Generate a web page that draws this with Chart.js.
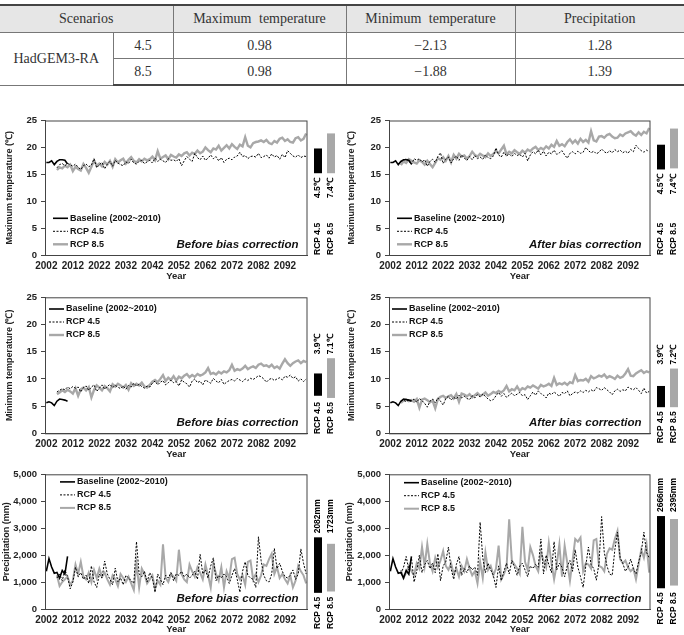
<!DOCTYPE html>
<html>
<head>
<meta charset="utf-8">
<script src="https://cdn.jsdelivr.net/npm/chart.js@4.4.0/dist/chart.umd.min.js"></script>
<style>
  body { margin: 0; background: #fff; width: 684px; height: 635px; position: relative; overflow: hidden; }
  #tbl { position: absolute; left: 0; top: 4px; width: 684px; border-collapse: collapse; table-layout: fixed;
         font-family: "Liberation Serif", "DejaVu Serif", serif; font-size: 14px; color: #333; word-spacing: 4px; }
  #tbl td, #tbl th { text-align: center; font-weight: normal; padding: 0; border: 1px solid #777; }
  #tbl tr:first-child th { background: #e6e6e6; height: 26px; border-top: 2px solid #444; }
  #tbl tr:last-child td { border-bottom: 2px solid #444; }
  #tbl td { height: 25px; }
  #tbl tr > *:first-child { border-left: none; }
  #tbl tr > *:last-child { border-right: none; }
  .panel { position: absolute; }
</style>
</head>
<body>
<table id="tbl"></table>
<div class="panel" style="left:0;top:108px"><canvas id="c1" width="342" height="174"></canvas></div>
<div class="panel" style="left:342px;top:108px"><canvas id="c2" width="342" height="174"></canvas></div>
<div class="panel" style="left:0;top:282px"><canvas id="c3" width="342" height="178"></canvas></div>
<div class="panel" style="left:342px;top:282px"><canvas id="c4" width="342" height="178"></canvas></div>
<div class="panel" style="left:0;top:460px"><canvas id="c5" width="342" height="175"></canvas></div>
<div class="panel" style="left:342px;top:460px"><canvas id="c6" width="342" height="175"></canvas></div>
<script>
Chart.defaults.font.family = '"Liberation Sans", Arial, sans-serif';
Chart.defaults.color = '#222';

// table
const tableHead = ['Scenarios', 'Maximum temperature', 'Minimum temperature', 'Precipitation'];
const tableModel = 'HadGEM3-RA';
const tableRcp = ['4.5', '8.5'];
const tableMax = [0.98, 0.98];
const tableMin = [-2.13, -1.88];
const tablePrecip = [1.28, 1.39];

// x axis
const years = [];
for (let y = 2002; y <= 2100; y++) years.push(String(y));
const tickYears = ['2002', '2012', '2022', '2032', '2042', '2052', '2062', '2072', '2082', '2092'];
const baseStart = 2002;
const rcpStart = 2006;

// baseline 2002~2010
const baseMax = [17.2, 17.2, 17.5, 16.8, 17.4, 17.7, 17.7, 17.6, 16.9];
const baseMin = [5.6, 5.8, 5.6, 5.1, 5.9, 6.3, 6.2, 6.1, 5.9];
const basePrecip = [1400, 1870, 1560, 1330, 1360, 1150, 1430, 1290, 1950];

// 2006~2100
const rcp45MaxBefore = [16.2, 16.8, 17.0, 16.6, 17.0,
  16.8, 16.5, 16.9, 16.3, 15.9, 16.6, 16.9, 16.4, 16.7, 17.9,
  16.2, 16.8, 17.2, 16.0, 16.9, 17.4, 16.5, 17.6, 17.1, 16.8,
  16.6, 17.3, 17.0, 17.8, 17.1, 16.9, 17.4, 17.6, 17.0, 17.3,
  17.6, 17.1, 18.0, 17.4, 17.8, 17.5, 17.2, 17.9, 17.6, 17.7,
  17.4, 17.9, 16.6, 17.5, 18.3, 17.8, 17.4, 18.9, 18.1, 17.7,
  18.4, 17.6, 18.0, 18.6, 17.9, 18.3, 17.5, 18.1, 17.2, 17.8,
  18.0, 17.7, 18.2, 18.4, 19.1, 18.3, 18.5, 17.9, 18.3, 18.4,
  18.2, 18.9, 18.1, 18.3, 18.6, 18.0, 18.8, 18.2, 18.5, 17.8,
  18.7, 18.1, 19.4, 18.9, 18.4, 18.2, 18.6, 18.1, 18.4, 18.3];
const rcp85MaxBefore = [15.8, 16.3, 16.1, 16.6, 16.3,
  16.8, 15.6, 16.4, 16.0, 15.7, 16.9, 16.2, 15.3, 16.4, 17.6,
  16.6, 17.0, 16.5, 17.3, 16.8, 17.5, 16.4, 17.8, 17.2, 17.6,
  17.9, 17.0, 17.7, 18.2, 17.5, 17.2, 17.8, 17.4, 17.9, 17.6,
  17.8, 18.3, 17.6, 19.3, 17.9, 18.2, 18.5, 17.8, 18.6, 18.3,
  18.1, 18.7, 18.4, 18.9, 19.1, 18.5, 19.0, 18.8, 19.4, 18.9,
  19.2, 20.0, 19.5, 19.1, 19.8, 19.6, 20.3, 19.4, 19.9, 20.4,
  19.8, 20.6, 20.1, 19.7, 20.5, 20.2, 21.9, 20.3, 20.0, 20.8,
  21.0, 21.1, 21.3, 21.0, 21.4, 20.8, 20.6, 21.2, 20.9, 21.6,
  21.8, 21.2, 21.5, 21.0, 20.9, 21.7, 21.9, 21.3, 21.6, 22.6];
const rcp45MaxAfter = [17.3, 17.6, 17.9, 17.5, 16.8,
  17.9, 17.6, 17.9, 17.3, 17.7, 16.5, 17.4, 17.8, 17.2, 18.3,
  19.0, 17.0, 17.8, 18.2, 17.1, 17.9, 18.4, 17.6, 18.6, 18.0,
  17.6, 18.3, 17.7, 18.5, 17.9, 18.2, 17.8, 18.6, 18.1, 17.9,
  18.4, 19.9, 18.6, 18.2, 19.1, 18.4, 18.8, 18.3, 18.9, 18.5,
  18.7, 18.2, 18.9, 17.5, 18.6, 19.2, 18.8, 19.5, 18.6, 19.3,
  18.4, 19.1, 18.8, 19.5, 18.7, 19.0, 19.4, 18.6, 18.0, 18.9,
  19.2, 18.8, 19.3, 18.9, 19.1, 20.0, 19.4, 19.0, 19.3, 18.8,
  19.1, 19.7, 19.2, 18.9, 19.4, 19.0, 19.6, 19.2, 19.5, 19.0,
  19.3, 18.9, 19.6, 19.2, 20.4, 19.8, 19.4, 19.1, 19.5, 19.2];
const rcp85MaxAfter = [16.7, 17.4, 17.1, 17.8, 17.5,
  17.2, 17.0, 17.6, 17.3, 16.8, 17.5, 16.9, 16.3, 17.1, 18.0,
  17.7, 18.2, 17.5, 18.4, 17.2, 18.6, 17.9, 18.8, 18.3, 18.5,
  17.9, 18.4, 19.2, 18.6, 18.3, 18.8, 18.5, 18.2, 18.9, 18.4,
  18.8, 19.3, 18.9, 19.6, 20.3, 18.7, 19.2, 18.9, 19.5, 19.1,
  18.8, 19.4, 19.0, 19.6, 19.3, 19.8, 20.1, 19.5, 19.9, 19.6,
  20.2, 19.8, 20.5, 20.1, 21.2, 20.3, 20.6, 20.2, 21.0, 21.5,
  20.8, 21.3, 20.7, 21.6, 21.0, 21.4, 20.9, 23.0, 21.3, 21.1,
  22.0, 22.1, 21.8, 22.3, 22.5, 22.0, 21.7, 21.8, 22.4, 22.1,
  22.6, 22.8, 23.0, 22.5, 22.2, 22.8, 22.3, 22.9, 22.6, 23.6];
const rcp45MinBefore = [7.6, 7.9, 8.2, 8.0, 8.5,
  8.2, 8.6, 8.3, 8.5, 7.6, 8.4, 8.7, 7.9, 8.5, 8.9,
  7.7, 8.3, 8.9, 8.1, 8.6, 9.0, 8.4, 8.8, 8.5, 8.2,
  8.7, 8.1, 8.8, 8.5, 9.2, 8.7, 9.0, 8.6, 8.3, 8.7,
  8.5, 9.2, 9.6, 8.9, 9.4, 9.7, 8.9, 9.3, 9.8, 9.3,
  9.5, 8.7, 9.8, 9.4, 9.1, 8.5, 9.6, 10.0, 9.3, 9.6,
  8.9, 9.8, 9.5, 9.2, 10.1, 9.6, 9.3, 9.9, 9.0, 9.4,
  9.7, 9.9, 9.6, 10.1, 9.8, 9.5, 10.0, 9.7, 10.1, 9.9,
  10.2, 10.6, 10.4, 10.0, 9.4, 9.9, 10.1, 9.7, 10.0, 10.2,
  9.8, 10.5, 10.3, 10.7, 10.1, 10.4, 9.6, 10.0, 9.5, 10.0];
const rcp85MinBefore = [7.2, 7.5, 7.9, 7.6, 8.0,
  7.7, 7.3, 8.3, 6.9, 8.1, 8.4, 7.9, 8.5, 6.6, 8.0,
  8.8, 8.4, 7.9, 8.7, 8.3, 7.7, 9.0, 8.6, 9.1, 8.8,
  8.4, 8.9, 8.0, 9.2, 8.7, 9.1, 8.8, 9.3, 8.6, 8.4,
  8.9, 9.5, 9.8, 9.4, 10.0, 10.7, 9.6, 10.2, 9.8, 10.5,
  9.7, 10.4, 10.1, 10.6, 10.9, 10.3, 10.7, 10.4, 10.9, 10.6,
  10.8, 11.2, 12.0, 10.9, 11.1, 10.8, 11.3, 11.0, 11.4, 11.2,
  11.6, 12.6, 11.5, 11.8, 11.6, 11.9, 12.4, 11.8, 12.1, 12.3,
  12.0, 12.6, 12.8, 12.4, 12.5, 12.2, 12.6, 12.0, 12.3, 11.9,
  12.8, 13.6, 12.9, 12.4, 12.9, 13.2, 13.4, 12.9, 13.3, 13.1];
const rcp45MinAfter = [5.9, 6.1, 5.8, 6.2, 6.0,
  6.3, 5.7, 6.4, 6.0, 5.5, 4.8, 5.9, 6.3, 5.6, 6.5,
  5.9, 5.2, 6.4, 6.8, 6.1, 6.6, 6.3, 7.0, 6.5, 6.8,
  6.4, 6.2, 6.9, 6.5, 7.1, 6.7, 7.2, 6.8, 6.3, 6.0,
  6.2, 6.9, 7.5, 6.8, 7.3, 6.6, 7.0, 7.4, 6.9, 7.2,
  7.5, 6.9, 7.1, 6.2, 6.9, 7.6, 7.0, 7.8, 7.3, 7.0,
  6.5, 7.4, 7.1, 7.6, 7.2, 6.8, 7.5, 7.3, 7.8, 6.9,
  7.3, 7.6, 7.4, 7.8, 7.5, 7.9, 7.6, 8.0, 7.7, 8.4,
  8.2, 7.9, 8.4, 8.0, 7.6, 7.1, 7.8, 8.1, 7.7, 8.0,
  7.8, 8.5, 8.2, 8.0, 8.4, 7.9, 7.3, 8.3, 7.4, 7.7];
const rcp85MinAfter = [5.6, 6.0, 6.2, 5.9, 6.1,
  5.8, 6.3, 4.7, 6.2, 6.4, 6.1, 5.7, 6.0, 4.6, 6.3,
  6.7, 6.9, 6.5, 6.8, 7.0, 6.4, 7.2, 5.8, 7.3, 7.1,
  6.8, 7.2, 6.6, 7.0, 7.4, 6.9, 7.1, 7.5, 6.9, 7.2,
  7.6, 7.4, 7.8, 7.5, 7.9, 8.7, 7.7, 8.1, 7.9, 8.6,
  7.8, 8.3, 8.1, 8.6, 8.4, 8.8, 8.5, 8.2, 8.9, 8.6,
  8.8, 9.1, 8.7, 10.2, 8.9, 9.2, 9.0, 9.3, 8.9, 9.4,
  9.2, 10.7, 9.6, 9.8, 9.7, 10.0, 9.5, 10.5, 10.1, 10.3,
  10.6, 10.4, 10.8, 10.2, 10.5, 10.3, 10.0, 10.6, 10.2, 10.4,
  11.0, 11.8, 10.6, 10.5, 11.0, 11.3, 11.6, 11.1, 11.4, 11.2];
const rcp45PrecipBefore = [1150, 1300, 1050, 1450, 1200,
  750, 1000, 1550, 1200, 1350, 1100, 1250, 950, 1600, 1000,
  800, 1300, 1150, 1780, 1300, 1100, 900, 1520, 1000, 1150,
  900, 1250, 1150, 1050, 950, 2500, 1300, 1200, 1400, 1000,
  1350, 1150, 620, 1300, 1100, 900, 1250, 1150, 1350, 1050,
  1300, 1250, 1400, 1200, 1300, 1150, 1250, 1400, 1100, 2030,
  1300, 1450, 1150, 1600, 1900, 1050, 1250, 1150, 1300, 1200,
  950, 1250, 1500, 1100, 620, 1400, 1750, 1250, 1150, 1100,
  800, 2680, 1800, 1250, 1050, 1000, 1300, 2250, 1500, 1700,
  1400, 1200, 1150, 1250, 1450, 1100, 1300, 2230, 1700, 1300];
const rcp85PrecipBefore = [1250, 850, 1000, 1100, 1200,
  900, 1050, 1650, 1300, 1750, 1200, 1100, 1350, 1000, 1450,
  1150, 1500, 1200, 1350, 1100, 900, 1250, 1100, 850, 1300,
  1150, 1000, 1200, 950, 700, 1700, 800, 1500, 1300, 950,
  1100, 1250, 750, 1050, 900, 2400, 1150, 1000, 1300, 1200,
  1050, 2200, 1300, 1100, 1000, 1650, 1400, 1200, 1550, 1350,
  1100, 1650, 1250, 800, 1700, 1300, 1050, 1550, 800, 1400,
  1150, 1850, 1900, 1300, 1100, 1250, 900, 1750, 1800, 1100,
  1300, 1000, 1250, 1650, 1600, 1850, 2050, 1300, 1550, 1150,
  1300, 1100, 950, 1250, 800, 1050, 1600, 1400, 1250, 950];
const rcp45PrecipAfter = [1300, 1550, 1950, 1450, 1900,
  1000, 1400, 2000, 1350, 1650, 1800, 1500, 1700, 1350, 2050,
  1050, 1600, 1750, 2300, 1500, 1100, 1650, 1950, 1250, 1500,
  1350, 1600, 1450, 1550, 1250, 3220, 1900, 1350, 1700, 1450,
  1250, 800, 1600, 1050, 1400, 1700, 1300, 1800, 1550, 1250,
  1600, 1700, 1450, 1200, 1600, 1500, 1650, 1550, 2600, 1300,
  2000, 1650, 1350, 2500, 1450, 1700, 1550, 1200, 1600, 1800,
  1400, 2200, 1550, 1200, 800, 1600, 2300, 1650, 1500, 1070,
  1700, 3430, 2100, 1600, 1300, 1250, 2200, 2850, 1900, 1700,
  1400, 1550, 1850, 1500, 1300, 1750, 2100, 2850, 2100, 1900];
const rcp85PrecipAfter = [1450, 1150, 1350, 1600, 1400,
  1250, 1700, 1500, 2300, 1600, 2420, 1700, 1400, 1900, 1550,
  1800, 2150, 1600, 1450, 1700, 1300, 1500, 1200, 1600, 1400,
  1850, 1500, 1250, 1400, 950, 1750, 1150, 2100, 1450, 1600,
  1250, 1500, 2350, 1100, 1300, 1550, 3330, 1800, 1650, 1500,
  1300, 3050, 1750, 1450, 2300, 2000, 1600, 1400, 2100, 1800,
  1550, 2450, 1700, 1100, 1650, 2400, 1200, 2350, 1700, 1050,
  1800, 2600, 2500, 2650, 1400, 1700, 1650, 1500, 2550, 2600,
  1600, 1550, 1400, 2050, 2250, 2200, 2600, 2900, 1850, 1700,
  1800, 1550, 1400, 1500, 1100, 1650, 2200, 1900, 2400, 1350];

// change bars [low, high] for RCP 4.5 / RCP 8.5
const barsMaxBefore = [[15.2, 19.8], [15.2, 22.6]];
const barsMaxAfter = [[15.9, 20.5], [16.1, 23.5]];
const barsMinBefore = [[6.9, 11.0], [6.5, 13.8]];
const barsMinAfter = [[4.8, 8.7], [4.8, 11.9]];
const barsPrecipBefore = [[600, 2660], [650, 2420]];
const barsPrecipAfter = [[770, 3450], [870, 3340]];
const barTextMaxBefore = ['4.5℃', '7.4℃'];
const barTextMaxAfter = ['4.5℃', '7.4℃'];
const barTextMinBefore = ['3.9℃', '7.1℃'];
const barTextMinAfter = ['3.9℃', '7.2℃'];
const barTextPrecipBefore = ['2082mm', '1723mm'];
const barTextPrecipAfter = ['2666mm', '2395mm'];
const barNames = ['RCP 4.5', 'RCP 8.5'];
const seriesNames = ['Baseline (2002~2010)', 'RCP 4.5', 'RCP 8.5'];

// build table
const tbl = document.getElementById('tbl');
const fmt = v => (v < 0 ? '−' + Math.abs(v).toFixed(2) : v.toFixed(2));
let html = '<colgroup><col style="width:113px"><col style="width:60px"><col style="width:173px"><col style="width:169px"><col></colgroup>';
html += '<tr><th colspan="2">' + tableHead[0] + '</th><th>' + tableHead[1] + '</th><th>' + tableHead[2] + '</th><th>' + tableHead[3] + '</th></tr>';
tableRcp.forEach((r, i) => {
  html += '<tr>' + (i === 0 ? '<td rowspan="2">' + tableModel + '</td>' : '') +
    '<td>' + r + '</td><td>' + fmt(tableMax[i]) + '</td><td>' + fmt(tableMin[i]) + '</td><td>' + fmt(tablePrecip[i]) + '</td></tr>';
});
tbl.innerHTML = html;

function alignToYears(start, values) {
  return years.map(y => {
    const i = Number(y) - start;
    return i >= 0 && i < values.length ? values[i] : null;
  });
}

const GRAY = '#a8a8a8';

const panels = [
  { id: 'c1', yTitle: 'Maximum temperature (℃)', yMax: 25, step: 5, base: baseMax, r45: rcp45MaxBefore, r85: rcp85MaxBefore,
    bars: barsMaxBefore, barText: barTextMaxBefore, note: 'Before bias correction', padTop: 12.5, xH: 27, yW: 45, padR: 34.5,
    legend: { from: 'bottom', dx: 8, dy: -36.7 }, textPos: 'below', titlePad: 4, grayW: 2.4 },
  { id: 'c2', yTitle: 'Maximum temperature (℃)', yMax: 25, step: 5, base: baseMax, r45: rcp45MaxAfter, r85: rcp85MaxAfter,
    bars: barsMaxAfter, barText: barTextMaxAfter, note: 'After bias correction', padTop: 12.5, xH: 27, yW: 47, padR: 33.5,
    legend: { from: 'bottom', dx: 8, dy: -36.7 }, textPos: 'below', titlePad: 4, grayW: 2.4 },
  { id: 'c3', yTitle: 'Minimum temperature (℃)', yMax: 25, step: 5, base: baseMin, r45: rcp45MinBefore, r85: rcp85MinBefore,
    bars: barsMinBefore, barText: barTextMinBefore, note: 'Before bias correction', padTop: 15.3, xH: 26.7, yW: 45, padR: 34.5,
    legend: { from: 'top', dx: 4, dy: 11.7 }, textPos: 'above', titlePad: 4, grayW: 2.4 },
  { id: 'c4', yTitle: 'Minimum temperature (℃)', yMax: 25, step: 5, base: baseMin, r45: rcp45MinAfter, r85: rcp85MinAfter,
    bars: barsMinAfter, barText: barTextMinAfter, note: 'After bias correction', padTop: 15.3, xH: 26.7, yW: 47, padR: 33.5,
    legend: { from: 'top', dx: 3, dy: 11.7 }, textPos: 'above', titlePad: 4, grayW: 2.4 },
  { id: 'c5', yTitle: 'Precipitation (mm)', yMax: 5000, step: 1000, base: basePrecip, r45: rcp45PrecipBefore, r85: rcp85PrecipBefore,
    bars: barsPrecipBefore, barText: barTextPrecipBefore, note: 'Before bias correction', padTop: 14.3, xH: 26, yW: 45, padR: 34.5,
    legend: { from: 'top', dx: 15, dy: 7.6 }, textPos: 'above', titlePad: 1, grayW: 2 },
  { id: 'c6', yTitle: 'Precipitation (mm)', yMax: 5000, step: 1000, base: basePrecip, r45: rcp45PrecipAfter, r85: rcp85PrecipAfter,
    bars: barsPrecipAfter, barText: barTextPrecipAfter, note: 'After bias correction', padTop: 14.3, xH: 26, yW: 47, padR: 33.5,
    legend: { from: 'top', dx: 15, dy: 8.4 }, textPos: 'above', titlePad: 2, grayW: 2 }
];

// box, legend, note and change bars drawn with the chart's own scales
const decor = {
  id: 'decor',
  afterDraw(chart, args, p) {
    const { ctx, chartArea: a } = chart;
    const y = chart.scales.y;
    ctx.save();
    ctx.strokeStyle = '#444';
    ctx.lineWidth = 1;
    ctx.strokeRect(a.left + 0.5, a.top + 0.5, a.right - a.left - 1, a.bottom - a.top);

    // legend
    ctx.font = 'bold 9px "Liberation Sans", Arial, sans-serif';
    ctx.textBaseline = 'middle';
    ctx.textAlign = 'left';
    chart.data.datasets.forEach((d, i) => {
      const ly = (p.legend.from === 'top' ? a.top : a.bottom) + p.legend.dy + i * 13;
      const lx = a.left + p.legend.dx;
      ctx.beginPath();
      ctx.strokeStyle = d.borderColor;
      ctx.lineWidth = d.borderWidth;
      ctx.setLineDash(d.borderDash || []);
      ctx.moveTo(lx, ly);
      ctx.lineTo(lx + 15, ly);
      ctx.stroke();
      ctx.setLineDash([]);
      ctx.fillStyle = '#111';
      ctx.fillText(d.label, lx + 17, ly);
    });

    // note
    ctx.font = 'italic bold 11.5px "Liberation Sans", Arial, sans-serif';
    ctx.textAlign = 'right';
    ctx.fillStyle = '#111';
    ctx.fillText(p.note, a.right - 9, a.bottom - 10);

    // change bars
    const xs = [a.right + 6.5, a.right + 19.5];
    const cols = ['#000', GRAY];
    const tops = p.bars.map(b => y.getPixelForValue(b[1]));
    const bots = p.bars.map(b => y.getPixelForValue(b[0]));
    p.bars.forEach((b, i) => {
      ctx.fillStyle = cols[i];
      ctx.fillRect(xs[i], tops[i], 8, bots[i] - tops[i]);
    });
    ctx.font = 'bold 8.5px "Liberation Sans", Arial, sans-serif';
    ctx.fillStyle = '#000';
    const minTop = Math.min(...tops);
    const maxBot = Math.max(...bots);
    p.bars.forEach((b, i) => {
      const cx = xs[i] + 4;
      // value label
      ctx.save();
      if (p.textPos === 'above') {
        ctx.translate(cx, minTop - 4);
        ctx.rotate(-Math.PI / 2);
        ctx.textAlign = 'left';
      } else {
        ctx.translate(cx, maxBot + 5);
        ctx.rotate(-Math.PI / 2);
        ctx.textAlign = 'right';
      }
      ctx.fillText(p.barText[i], 0, 0);
      ctx.restore();
      // scenario label
      const w = ctx.measureText(barNames[i]).width;
      const yEnd = Math.max(a.bottom, maxBot + 4 + w);
      ctx.save();
      ctx.translate(cx, yEnd);
      ctx.rotate(-Math.PI / 2);
      ctx.textAlign = 'left';
      ctx.fillText(barNames[i], 0, 0);
      ctx.restore();
    });
    ctx.restore();
  }
};

panels.forEach(p => {
  new Chart(document.getElementById(p.id), {
    type: 'line',
    data: {
      labels: years,
      datasets: [
        { label: seriesNames[0], data: alignToYears(baseStart, p.base), borderColor: '#000', borderWidth: 1.6 },
        { label: seriesNames[1], data: alignToYears(rcpStart, p.r45), borderColor: '#000', borderWidth: 1, borderDash: [2, 1.5] },
        { label: seriesNames[2], data: alignToYears(rcpStart, p.r85), borderColor: GRAY, borderWidth: p.grayW }
      ]
    },
    options: {
      responsive: false,
      devicePixelRatio: 1,
      animation: false,
      elements: { point: { radius: 0 }, line: { tension: 0 } },
      layout: { padding: { top: p.padTop, right: p.padR, left: 0, bottom: 0 } },
      plugins: { legend: { display: false }, tooltip: { enabled: false }, decor: p },
      scales: {
        x: {
          type: 'category',
          offset: true,
          border: { display: true, color: '#444' },
          grid: {
            drawOnChartArea: false, offset: true, tickLength: 4,
            color: ctx => (tickYears.includes(years[ctx.index]) ? '#444' : 'rgba(0,0,0,0)')
          },
          ticks: {
            autoSkip: false, maxRotation: 0, padding: 1,
            font: { size: 10, weight: 'bold' }, color: '#222',
            callback: function (v) { const l = this.getLabelForValue(v); return tickYears.includes(l) ? l : null; }
          },
          title: { display: true, text: 'Year', font: { size: 9.5, weight: 'bold' }, color: '#222', padding: 0 },
          afterFit: s => { s.height = p.xH; }
        },
        y: {
          min: 0, max: p.yMax,
          border: { display: true, color: '#444' },
          grid: { drawOnChartArea: false, tickLength: 4, color: '#444' },
          ticks: {
            stepSize: p.step, padding: 4, font: { size: 9.5, weight: 'bold' }, color: '#222',
            callback: v => v.toLocaleString('en-US')
          },
          title: { display: true, text: p.yTitle, font: { size: 9, weight: 'bold' }, color: '#222', padding: { top: p.titlePad, bottom: 0 } },
          afterFit: s => { s.width = p.yW; }
        }
      }
    },
    plugins: [decor]
  });
});
</script>
</body>
</html>
